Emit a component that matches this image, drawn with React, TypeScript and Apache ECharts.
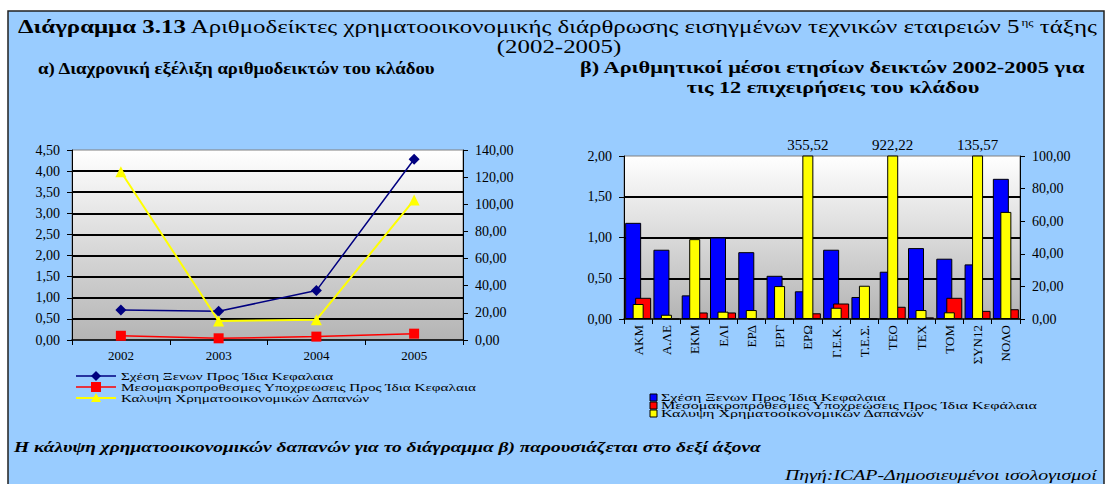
import React, { useEffect, useRef } from 'react';
import * as echarts from 'echarts';

// ---------- DATA ----------
const yearsA = ['2002', '2003', '2004', '2005'];
const debtEquityA = [0.71, 0.68, 1.17, 4.28];
const longTermA = [0.1, 0.04, 0.08, 0.15];
const coverageA = [124.0, 14.0, 14.9, 103.2];

const firmsB = ['ΑΚΜ', 'Α.ΛΕ', 'ΕΚΜ', 'ΕΛΙ', 'ΕΡΔ', 'ΕΡΓ', 'ΕΡΩ', 'Γ.Ε.Κ.', 'Τ.Ε.Σ.', 'ΤΕΟ', 'ΤΕΧ', 'ΤΟΜ', 'ΣΥΝ12', 'ΝΟΛΟ'];
const debtEquityB = [1.18, 0.85, 0.29, 1.0, 0.82, 0.53, 0.34, 0.85, 0.27, 0.58, 0.87, 0.74, 0.67, 1.72];
const longTermB = [0.26, 0.0, 0.08, 0.08, 0.0, 0.0, 0.07, 0.19, 0.0, 0.15, 0.02, 0.26, 0.1, 0.12];
const coverageB = [9.2, 2.6, 49.0, 4.5, 5.5, 20.2, 355.52, 6.9, 20.4, 922.22, 5.5, 4.1, 135.57, 65.7];

const seriesNamesA = [
  'Σχέση Ξενων Προς Ίδια Κεφαλαια',
  'Μεσομακροπροθεσμες Υποχρεωσεις Προς Ίδια Κεφαλαια',
  'Καλυψη Χρηματοοικονομικών Δαπανών',
];
const seriesNamesB = [
  'Σχέση Ξενων Προς Ίδια Κεφαλαια',
  'Μεσομακροπρόθεσμες Υποχρεώσεις Προς Ίδια Κεφάλαια',
  'Καλυψη Χρηματοοικονομικών Δαπανών',
];

const titleBold = 'Διάγραμμα 3.13';
const titleRest = ' Αριθμοδείκτες χρηματοοικονομικής διάρθρωσης εισηγμένων τεχνικών εταιρειών 5';
const titleSup = 'ης';
const titleEnd = ' τάξης';
const titleLine2 = '(2002-2005)';
const subA = 'α) Διαχρονική εξέλιξη αριθμοδεικτών του κλάδου';
const subB1 = 'β) Αριθμητικοί μέσοι ετησίων δεικτών 2002-2005 για';
const subB2 = 'τις 12 επιχειρήσεις του κλάδου';
const noteText = 'Η κάλυψη χρηματοοικονομικών δαπανών για το διάγραμμα β) παρουσιάζεται στο δεξί άξονα';
const sourceText = 'Πηγή:ICAP-Δημοσιευμένοι ισολογισμοί';

// ---------- HELPERS ----------
const FONT = 'Liberation Serif';
let ctx: CanvasRenderingContext2D | null = null;
function tw(text: string, size: number, weight = 'normal', style = 'normal') {
  if (!ctx) ctx = document.createElement('canvas').getContext('2d');
  ctx!.font = `${style} ${weight} ${size}px "Liberation Serif"`;
  return ctx!.measureText(text).width;
}
const comma = (v: number) => v.toFixed(2).replace('.', ',');

function txt(text: string, x: number, y: number, size: number, scaleX: number, opts: any = {}) {
  const st: any = {
    text,
    fontFamily: FONT,
    fontSize: size,
    fill: opts.fill || '#000',
    align: opts.align || 'left',
    verticalAlign: 'middle',
  };
  if (opts.weight) st.fontWeight = opts.weight;
  if (opts.style) st.fontStyle = opts.style;
  return { type: 'text', x, y, scaleX, silent: true, style: st };
}

function buildGraphics() {
  const g: any[] = [];
  g.push({
    type: 'rect',
    z: -100,
    silent: true,
    shape: { x: 8, y: 11, width: 1096, height: 490 },
    style: { fill: '#99CCFF', stroke: '#202020', lineWidth: 1.5 },
  });

  // Title
  const tSize = 19;
  const supSize = 10;
  const wTitle =
    tw(titleBold, tSize, 'bold') + tw(titleRest, tSize) + tw(titleSup, supSize) + tw(titleEnd, tSize);
  const sTitle = (1097 - 18) / wTitle;
  g.push({
    type: 'text',
    x: 18,
    y: 27,
    scaleX: sTitle,
    silent: true,
    style: {
      text: `{b|${titleBold}}{n|${titleRest}}{s|${titleSup}}{n|${titleEnd}}`,
      fontFamily: FONT,
      fontSize: tSize,
      fill: '#000',
      align: 'left',
      verticalAlign: 'middle',
      rich: {
        b: { fontFamily: FONT, fontSize: tSize, fontWeight: 'bold', fill: '#000' },
        n: { fontFamily: FONT, fontSize: tSize, fill: '#000' },
        s: { fontFamily: FONT, fontSize: supSize, fill: '#000', verticalAlign: 'top' },
      },
    },
  });
  g.push(txt(titleLine2, 559, 47, tSize, sTitle, { align: 'center' }));

  // Subtitles
  const sSize = 16.5;
  const sA = (436 - 38) / tw(subA, sSize, 'bold');
  g.push(txt(subA, 38, 68, sSize, sA, { weight: 'bold' }));
  const sB = (1086 - 580) / tw(subB1, sSize, 'bold');
  g.push(txt(subB1, 580, 68, sSize, sB, { weight: 'bold' }));
  g.push(txt(subB2, 833, 88, sSize, sB, { weight: 'bold', align: 'center' }));

  // Note and source
  const nSize = 14;
  const sN = (762 - 14) / tw(noteText, nSize, 'bold', 'italic');
  g.push(txt(noteText, 14, 447, nSize, sN, { weight: 'bold', style: 'italic' }));
  const sS = (1097 - 785) / tw(sourceText, nSize, 'normal', 'italic');
  g.push(txt(sourceText, 785, 476, nSize, sS, { style: 'italic' }));

  // Left legend (lines with markers)
  const lSize = 10.5;
  const rowsA = [376, 387, 398];
  const colorsA = ['#000080', '#FF0000', '#FFFF00'];
  const sLA = (477 - 121) / tw(seriesNamesA[1], lSize);
  rowsA.forEach((y, i) => {
    g.push({
      type: 'line',
      silent: true,
      shape: { x1: 76, y1: y, x2: 116, y2: y },
      style: { stroke: colorsA[i], lineWidth: i === 2 ? 2 : 1.5 },
    });
    const cx = 96;
    if (i === 0) {
      g.push({
        type: 'polygon',
        silent: true,
        shape: { points: [[cx, y - 5], [cx + 5, y], [cx, y + 5], [cx - 5, y]] },
        style: { fill: colorsA[0] },
      });
    } else if (i === 1) {
      g.push({
        type: 'rect',
        silent: true,
        shape: { x: cx - 5, y: y - 5, width: 10, height: 10 },
        style: { fill: colorsA[1] },
      });
    } else {
      g.push({
        type: 'polygon',
        silent: true,
        shape: { points: [[cx, y - 5], [cx + 5, y + 4], [cx - 5, y + 4]] },
        style: { fill: colorsA[2] },
      });
    }
    g.push(txt(seriesNamesA[i], 121, y, lSize, sLA));
  });

  // Right legend (squares)
  const rowsB = [397.5, 405.5, 413.5];
  const colorsB = ['#0000FF', '#FF0000', '#FFFF00'];
  const sLB = (1038 - 661) / tw(seriesNamesB[1], lSize);
  rowsB.forEach((y, i) => {
    g.push({
      type: 'rect',
      silent: true,
      shape: { x: 650, y: y - 3.5, width: 7, height: 7 },
      style: { fill: colorsB[i], stroke: '#000', lineWidth: 1 },
    });
    g.push(txt(seriesNamesB[i], 661, y, lSize, sLB));
  });
  return g;
}

function plotBg() {
  return new echarts.graphic.LinearGradient(0, 0, 0, 1, [
    { offset: 0, color: '#FFFFFF' },
    { offset: 1, color: '#B4B4B4' },
  ]);
}

function buildOption(): any {
  const axisText = { fontFamily: FONT, fontSize: 14, color: '#000' };
  const blackLine = { show: true, lineStyle: { color: '#000', width: 1 } };
  const tick = { show: true, length: 5, lineStyle: { color: '#000' } };
  return {
    animation: false,
    backgroundColor: '#FFFFFF',
    textStyle: { fontFamily: FONT },
    graphic: buildGraphics(),
    grid: [
      {
        left: 72, right: 649, top: 150, bottom: 144,
        show: true, backgroundColor: plotBg(), borderColor: '#808080', borderWidth: 1,
        outerBoundsMode: 'none',
      },
      {
        left: 624, right: 92, top: 156, bottom: 165,
        show: true, backgroundColor: plotBg(), borderColor: '#808080', borderWidth: 1,
        outerBoundsMode: 'none',
      },
    ],
    xAxis: [
      {
        type: 'category', gridIndex: 0, data: yearsA, boundaryGap: true,
        axisLine: { show: true, lineStyle: { color: '#000', width: 1.5 } },
        axisTick: tick,
        axisLabel: { ...axisText, fontSize: 13, margin: 9 },
        splitLine: { show: false },
      },
      {
        type: 'category', gridIndex: 1, data: firmsB, boundaryGap: true,
        axisLine: { show: true, lineStyle: { color: '#000', width: 1.5 } },
        axisTick: tick,
        axisLabel: { ...axisText, fontSize: 13, rotate: 90, margin: 6, interval: 0 },
        splitLine: { show: false },
      },
      { type: 'category', gridIndex: 1, data: firmsB, show: false },
    ],
    yAxis: [
      {
        type: 'value', gridIndex: 0, min: 0, max: 4.5, interval: 0.5,
        axisLine: blackLine, axisTick: tick,
        axisLabel: { ...axisText, margin: 12, formatter: (v: number) => comma(v) },
        splitLine: { show: true, showMaxLine: false, showMinLine: false, lineStyle: { color: '#000', width: 2 } },
      },
      {
        type: 'value', gridIndex: 0, position: 'right', min: 0, max: 140, interval: 20,
        axisLine: blackLine, axisTick: tick,
        axisLabel: { ...axisText, margin: 12, formatter: (v: number) => comma(v) },
        splitLine: { show: false },
      },
      {
        type: 'value', gridIndex: 1, min: 0, max: 2, interval: 0.5,
        axisLine: blackLine, axisTick: tick,
        axisLabel: { ...axisText, margin: 12, formatter: (v: number) => comma(v) },
        splitLine: { show: true, showMaxLine: false, showMinLine: false, lineStyle: { color: '#000', width: 2 } },
      },
      {
        type: 'value', gridIndex: 1, position: 'right', min: 0, max: 100, interval: 20,
        axisLine: blackLine, axisTick: tick,
        axisLabel: { ...axisText, margin: 12, formatter: (v: number) => comma(v) },
        splitLine: { show: false },
      },
    ],
    series: [
      {
        name: seriesNamesA[0], type: 'line', xAxisIndex: 0, yAxisIndex: 0, data: debtEquityA,
        symbol: 'diamond', symbolSize: 11,
        itemStyle: { color: '#000080' }, lineStyle: { color: '#000080', width: 1.5 },
      },
      {
        name: seriesNamesA[1], type: 'line', xAxisIndex: 0, yAxisIndex: 0, data: longTermA,
        symbol: 'rect', symbolSize: 10,
        itemStyle: { color: '#FF0000' }, lineStyle: { color: '#FF0000', width: 1.5 },
      },
      {
        name: seriesNamesA[2], type: 'line', xAxisIndex: 0, yAxisIndex: 1, data: coverageA,
        symbol: 'triangle', symbolSize: 11,
        itemStyle: { color: '#FFFF00' }, lineStyle: { color: '#FFFF00', width: 2 },
      },
      {
        name: seriesNamesB[0], type: 'bar', xAxisIndex: 1, yAxisIndex: 2, data: debtEquityB,
        barWidth: 16, barGap: '-37.5%',
        itemStyle: { color: '#0000FF', borderColor: '#000', borderWidth: 1 },
      },
      {
        name: seriesNamesB[1], type: 'bar', xAxisIndex: 1, yAxisIndex: 2, data: longTermB,
        barWidth: 16, barGap: '-37.5%',
        itemStyle: { color: '#FF0000', borderColor: '#000', borderWidth: 1 },
      },
      {
        name: seriesNamesB[2], type: 'bar', xAxisIndex: 2, yAxisIndex: 3,
        data: coverageB.map((v) => ({ value: v, label: { show: v > 100 } })),
        barWidth: 11, clip: true,
        itemStyle: { color: '#FFFF00', borderColor: '#000', borderWidth: 1 },
        label: {
          position: 'top', distance: 3, fontFamily: FONT, fontSize: 15, color: '#000',
          formatter: (p: any) => comma(p.value),
        },
      },
    ],
  };
}

export default function App() {
  const ref = useRef<HTMLDivElement>(null);
  useEffect(() => {
    const chart = echarts.init(ref.current!, null, { renderer: 'svg' });
    chart.setOption(buildOption());
    return () => chart.dispose();
  }, []);
  return (
    <div
      ref={ref}
      style={{ position: 'absolute', left: 0, top: 0, width: 1112, height: 484, background: '#fff' }}
    />
  );
}
